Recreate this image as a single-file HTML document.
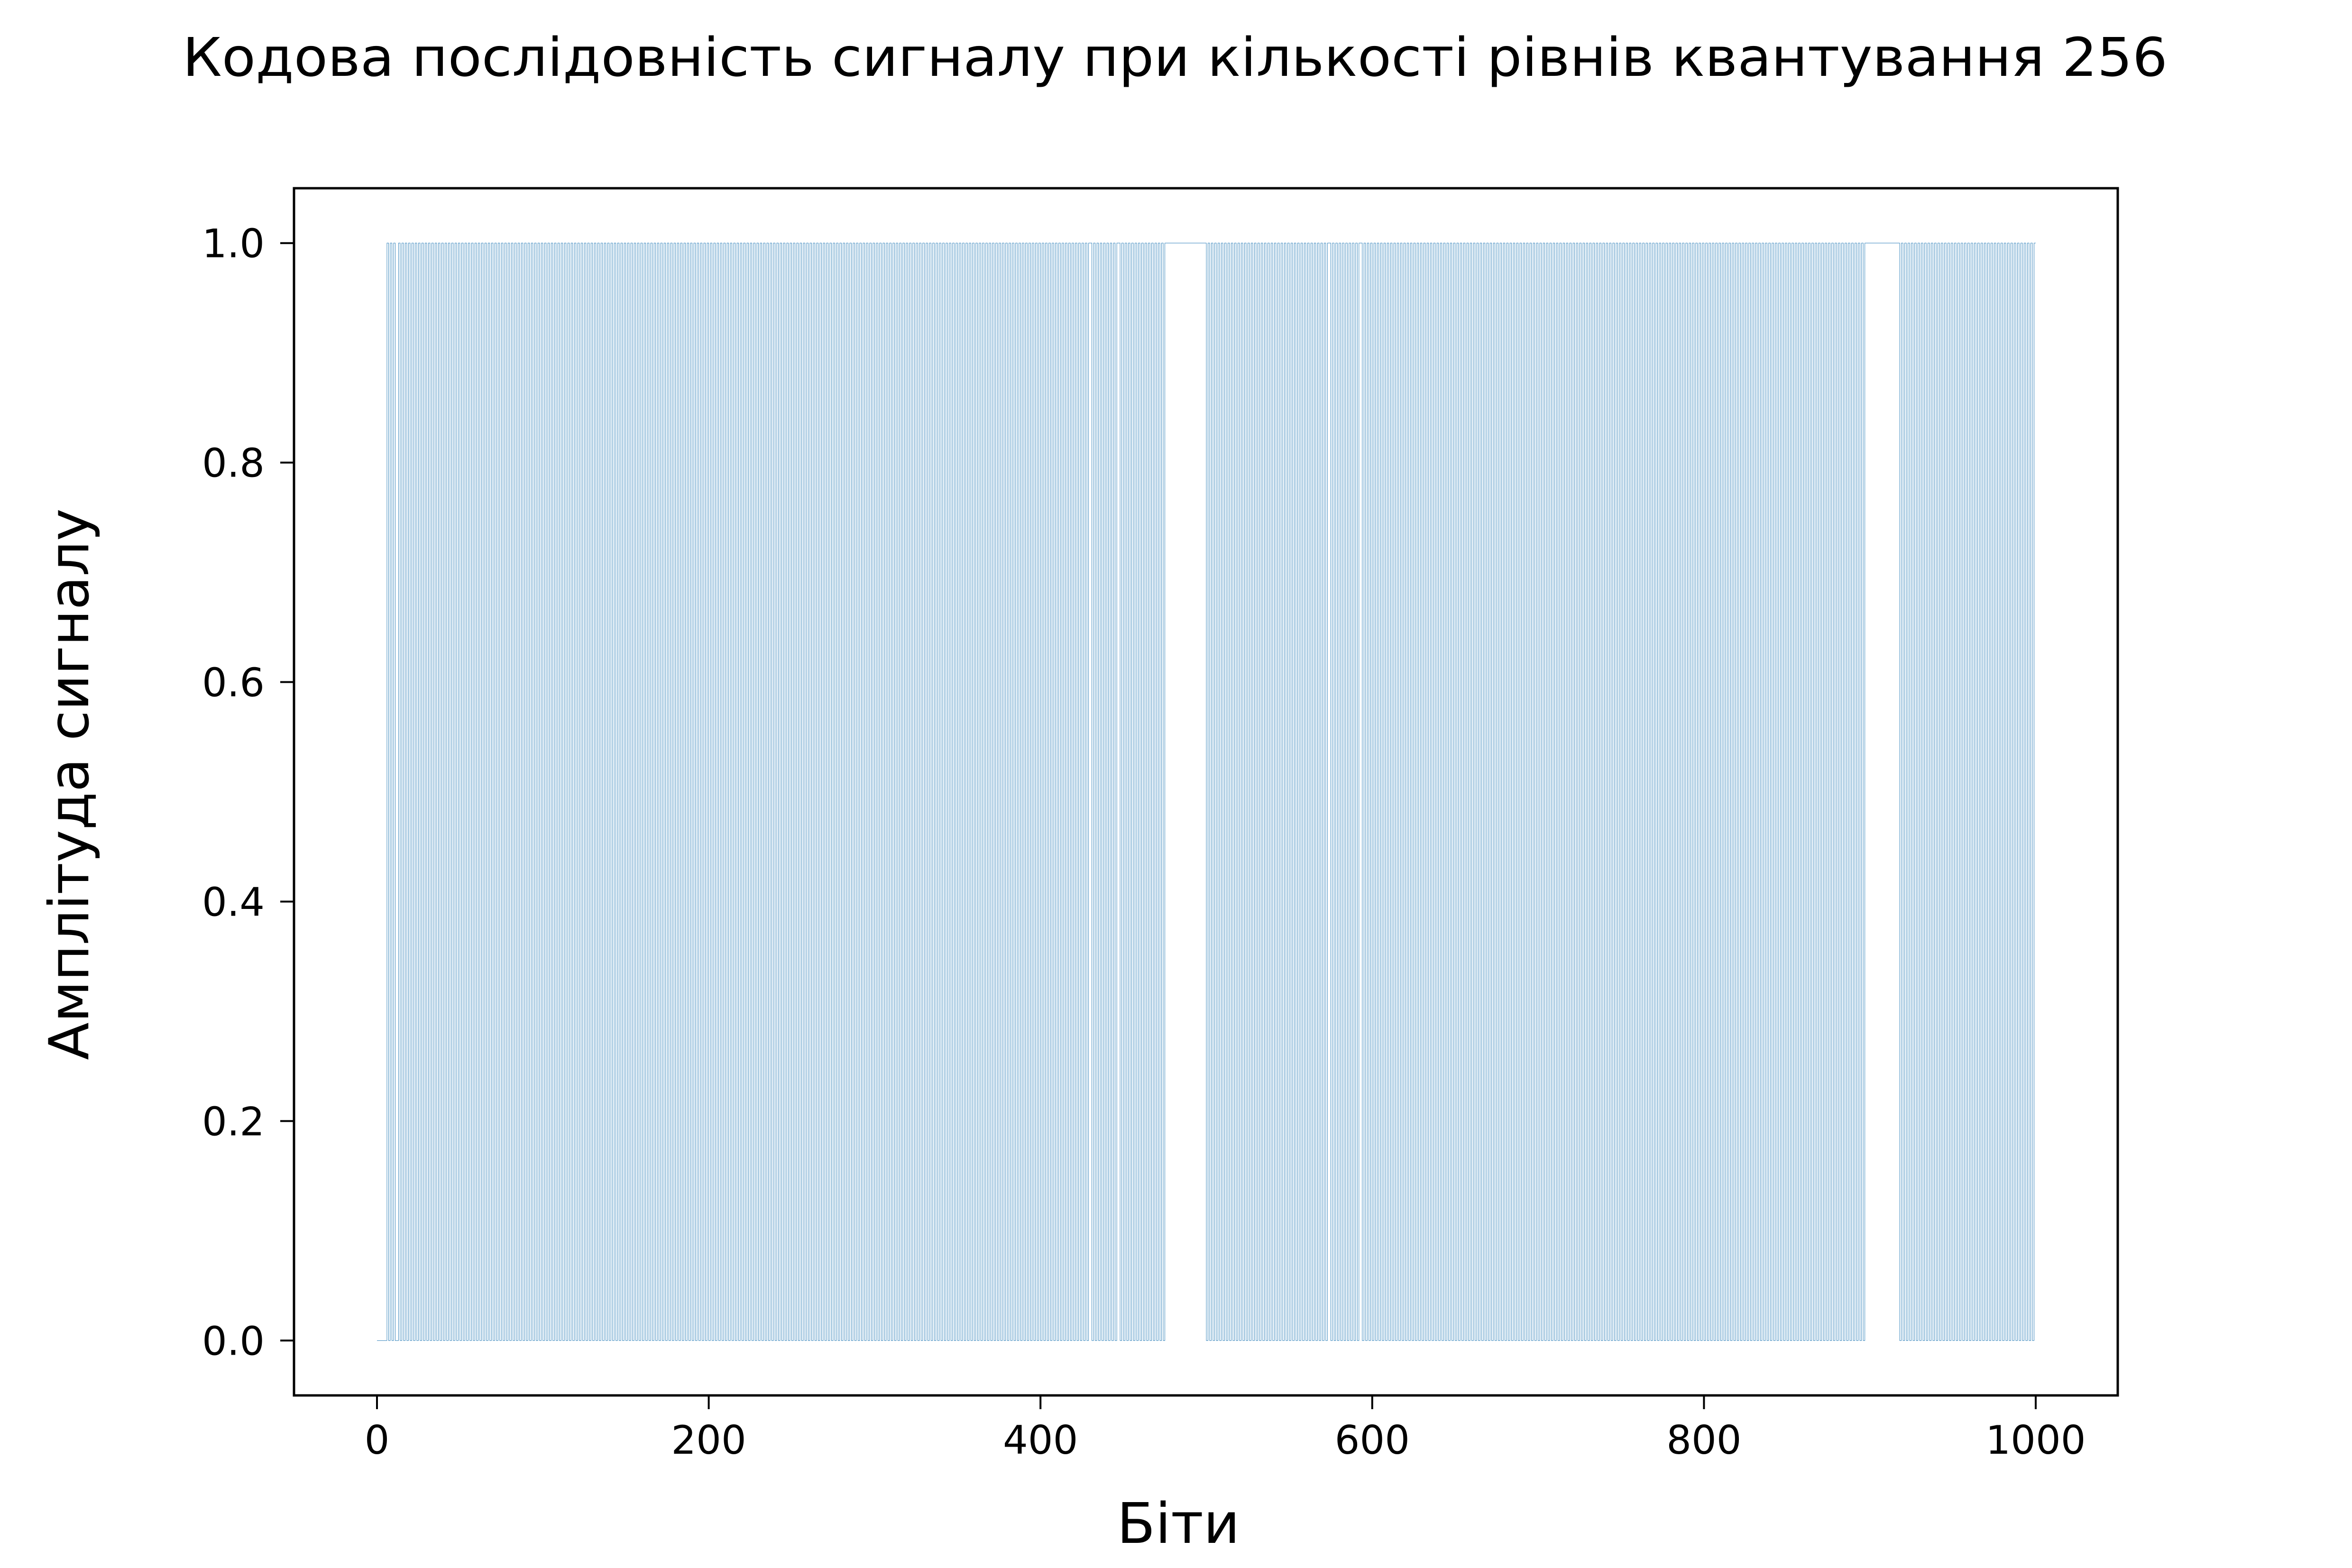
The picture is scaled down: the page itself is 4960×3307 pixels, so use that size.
<!DOCTYPE html>
<html><head><meta charset="utf-8"><style>
html,body{margin:0;padding:0;background:#fff}
svg{display:block}
text{font-family:"DejaVu Sans","Liberation Sans",sans-serif;fill:#000}
</style></head><body>
<svg id="chart" width="4960" height="3307" viewBox="0 0 4960 3307" xmlns="http://www.w3.org/2000/svg">
<rect x="0" y="0" width="4960" height="3307" fill="#fff"/>
<text x="2478" y="160" font-size="112" text-anchor="middle" textLength="4186" lengthAdjust="spacingAndGlyphs">Кодова послідовність сигналу при кількості рівнів квантування 256</text>
<g id="plot"></g>
<g id="axes"></g>
<text x="2485" y="3254" font-size="118" text-anchor="middle">Біти</text>
<text x="0" y="0" font-size="116" text-anchor="middle" transform="translate(186,1654) rotate(-90)">Амплітуда сигналу</text>
</svg>
<script>
const bitRows = [
"000000","101010","0",
"10101010101010101010101010101010101010101010101010",
"10101010101010101010101010101010101010101010101010",
"10101010101010101010101010101010101010101010101010",
"10101010101010101010101010101010101010101010101010",
"10101010101010101010101010101010101010101010101010",
"10101010101010101010101010101010101010101010101010",
"10101010101010101010101010101010101010101010101010",
"10101010101010101010101010101010101010101010101010",
"1010101010101010",
"11",
"0101010101010101",
"1",
"0101010101010101010101010101",
"111111111111111111111111",
"01010101010101010101010101010101010101010101010101",
"010101010101010101010101",
"1",
"010101010101010101",
"1",
"01010101010101010101010101010101010101010101010101",
"01010101010101010101010101010101010101010101010101",
"01010101010101010101010101010101010101010101010101",
"01010101010101010101010101010101010101010101010101",
"01010101010101010101010101010101010101010101010101",
"01010101010101010101010101010101010101010101010101",
"0101",
"11111111111111111111",
"01010101010101010101010101010101010101010101010101",
"01010101010101010101010101010101"
];
const xTicks = [0, 200, 400, 600, 800, 1000];
const yTicks = [0.0, 0.2, 0.4, 0.6, 0.8, 1.0];
const yTickLabels = ["0.0", "0.2", "0.4", "0.6", "0.8", "1.0"];

const L = 620, R = 4466, T = 397, B = 2943;
function xs(v){ return 795 + (v - 0) * (4293 - 795) / 1000; }
function ys(v){ return B - (v + 0.05) * (B - T) / 1.1; }

const NS = "http://www.w3.org/2000/svg";
const plot = document.getElementById('plot');
const axes = document.getElementById('axes');
const bits = bitRows.join('').split('').map(Number);

let d = "M" + xs(0) + " " + ys(bits[0]);
for (let i = 0; i < bits.length; i++) {
  d += " L" + xs(i + 1).toFixed(2) + " " + ys(bits[i]).toFixed(2);
  if (i + 1 < bits.length && bits[i + 1] !== bits[i]) {
    d += " L" + xs(i + 1).toFixed(2) + " " + ys(bits[i + 1]).toFixed(2);
  }
}
const line = document.createElementNS(NS, 'path');


line.setAttribute('d', d);
line.setAttribute('fill', 'none');
line.setAttribute('stroke', '#1f77b4');
line.setAttribute('stroke-width', '0.85');
plot.appendChild(line);

const frame = document.createElementNS(NS, 'rect');


frame.setAttribute('x', L); frame.setAttribute('y', T);
frame.setAttribute('width', R - L); frame.setAttribute('height', B - T);
frame.setAttribute('fill', 'none'); frame.setAttribute('stroke', '#000'); frame.setAttribute('stroke-width', '5');
axes.appendChild(frame);

xTicks.forEach(function(v){
  const t = document.createElementNS(NS, 'line');
  
  
  t.setAttribute('x1', xs(v)); t.setAttribute('x2', xs(v));
  t.setAttribute('y1', B); t.setAttribute('y2', B + 29);
  t.setAttribute('stroke', '#000'); t.setAttribute('stroke-width', '4');
  axes.appendChild(t);
  const lb = document.createElementNS(NS, 'text');
  
  
  lb.setAttribute('x', xs(v)); lb.setAttribute('y', 3066);
  lb.setAttribute('font-size', '83'); lb.setAttribute('text-anchor', 'middle');
  lb.textContent = String(v);
  axes.appendChild(lb);
});
yTicks.forEach(function(v, i){
  const t = document.createElementNS(NS, 'line');
  
  
  t.setAttribute('x1', L - 29); t.setAttribute('x2', L);
  t.setAttribute('y1', ys(v)); t.setAttribute('y2', ys(v));
  t.setAttribute('stroke', '#000'); t.setAttribute('stroke-width', '4');
  axes.appendChild(t);
  const lb = document.createElementNS(NS, 'text');
  
  
  lb.setAttribute('x', 558); lb.setAttribute('y', ys(v) + 30);
  lb.setAttribute('font-size', '83'); lb.setAttribute('text-anchor', 'end');
  lb.textContent = yTickLabels[i];
  axes.appendChild(lb);
});
</script>
</body></html>
